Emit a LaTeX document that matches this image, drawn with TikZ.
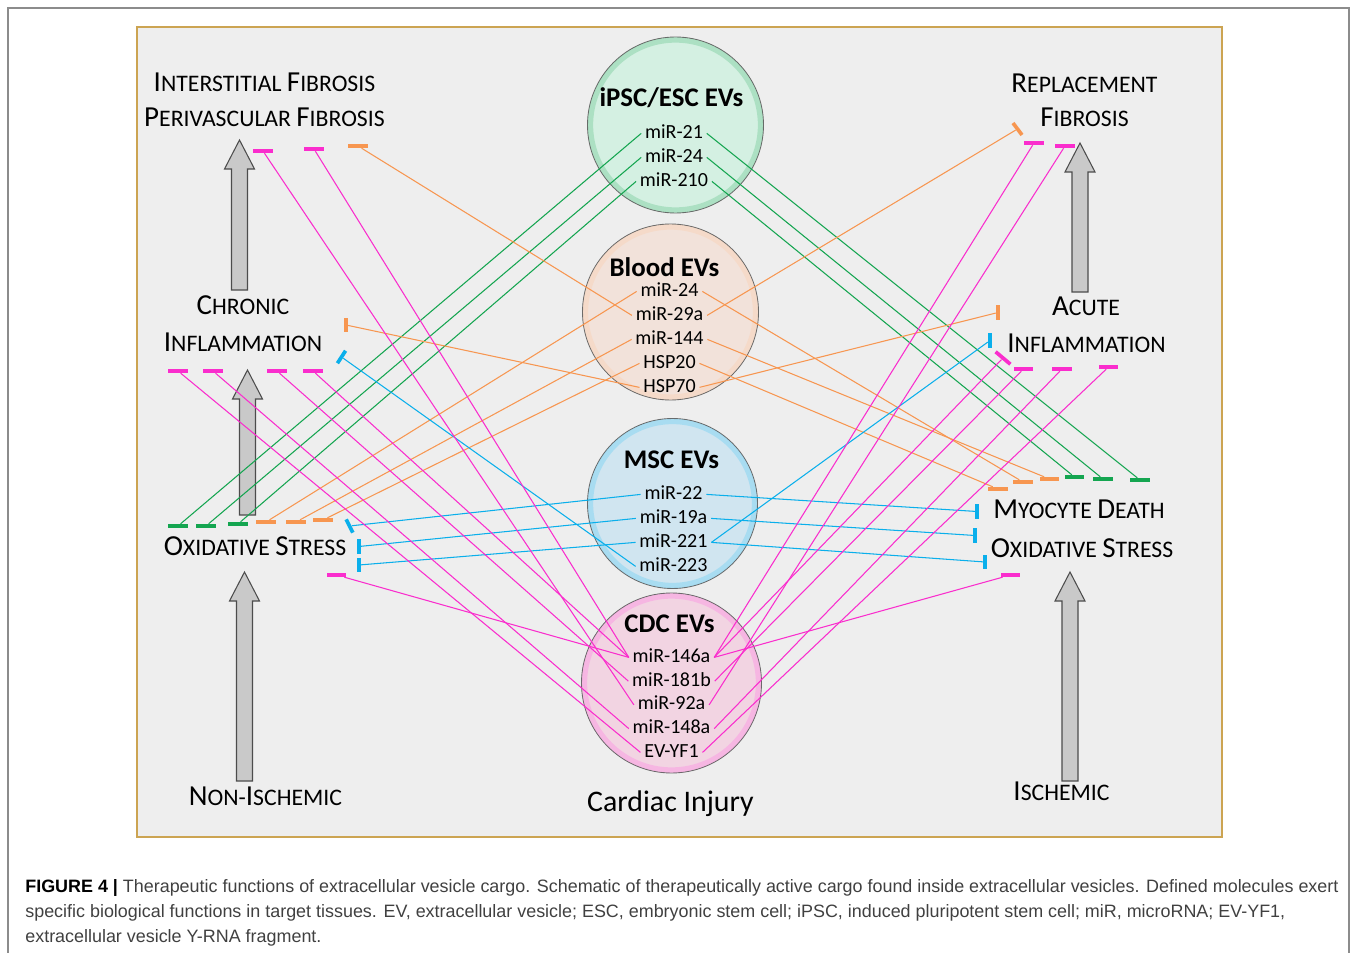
\documentclass[tikz,border=0pt]{standalone}
\usepackage{fontspec}
\setmainfont{Carlito}
\newfontfamily\capfont{Liberation Sans}
\usetikzlibrary{positioning}

\definecolor{evgreen}{RGB}{20,165,80}
\definecolor{evorange}{RGB}{247,150,80}
\definecolor{evmagenta}{RGB}{250,45,205}
\definecolor{evblue}{RGB}{10,175,235}
\definecolor{boxgold}{RGB}{204,164,82}
\definecolor{boxgray}{RGB}{238,238,238}
\definecolor{arrowgray}{RGB}{201,201,201}
\definecolor{ipscfill}{RGB}{212,240,226}
\definecolor{bloodfill}{RGB}{242,226,218}
\definecolor{mscfill}{RGB}{208,229,240}
\definecolor{cdcfill}{RGB}{242,212,226}

% small caps by hand: large first letter, smaller rest
\newcommand{\scw}[2]{{\fontsize{16.5}{18}\selectfont #1}{\fontsize{13.5}{15}\selectfont #2}}

\newcommand{\grayarrow}[3]{%
    \draw[blockarrow] (#1-8,#2) -- (#1+8,#2) -- (#1+8,#3+29) -- (#1+15,#3+29)
        -- (#1,#3) -- (#1-15,#3+29) -- (#1-8,#3+29) -- cycle;}

\begin{document}
\begin{tikzpicture}[x=0.02cm, y=-0.02cm,
    sclabel/.style={anchor=base, inner sep=0pt, font=\fontsize{13.5}{15}\selectfont},
    evtitle/.style={anchor=base, inner sep=0pt, font=\fontsize{15.3}{17}\selectfont\bfseries},
    mir/.style={inner ysep=0pt, inner xsep=2pt, text height=1.5ex, text depth=0.3ex,
        font=\fontsize{11.4}{13}\selectfont, on grid},
    vesicle/.style={circle, draw=black!60, line width=0.5pt, inner sep=0pt},
    glow/.style={line width=3pt, opacity=0.4},
    link/.style={line width=0.6pt},
    hbar/.style={fill=#1, inner sep=0pt, minimum width=11pt, minimum height=2.1pt},
    vbar/.style={fill=#1, inner sep=0pt, minimum width=2.1pt, minimum height=8.5pt},
    blockarrow/.style={draw=black!70, line width=0.6pt, fill=arrowgray}]

    \useasboundingbox (0,0) rectangle (1357,953);
    \draw[black!45, line width=0.6pt] (8,953) -- (8,8) -- (1349,8) -- (1349,953);
    \draw[boxgold, fill=boxgray, line width=1.2pt] (137,27) rectangle (1222,837);

    \grayarrow{239.5}{290}{140}
    \grayarrow{247.5}{515}{370}
    \grayarrow{244.5}{781}{572}
    \grayarrow{1080}{292}{143}
    \grayarrow{1070}{781}{572}

    \node[vesicle, fill=ipscfill, minimum size=3.52cm] (ipsc) at (675.5,125) {};
    \node[vesicle, fill=bloodfill, minimum size=3.52cm] (blood) at (670.5,312) {};
    \node[vesicle, fill=mscfill, minimum size=3.4cm] (msc) at (672.5,503.5) {};
    \node[vesicle, fill=cdcfill, minimum size=3.6cm] (cdc) at (671.5,683) {};
    \draw[glow, evgreen!60] (ipsc.center) circle (1.7cm);
    \draw[glow, evorange!45] (blood.center) circle (1.7cm);
    \draw[glow, evblue!60] (msc.center) circle (1.64cm);
    \draw[glow, evmagenta!55] (cdc.center) circle (1.74cm);

    \node[evtitle] (ipsct) at (671.5,107) {iPSC/ESC EVs};
    \node[mir] (ipsc21) at (674,133.4) {miR-21};
    \node[mir, below=0.48cm of ipsc21] (ipsc24) {miR-24};
    \node[mir, below=0.48cm of ipsc24] (ipsc210) {miR-210};

    \node[evtitle] (bloodt) at (664.5,276) {Blood EVs};
    \node[mir] (bl24) at (669.5,291.4) {miR-24};
    \node[mir, below=0.48cm of bl24] (bl29a) {miR-29a};
    \node[mir, below=0.48cm of bl29a] (bl144) {miR-144};
    \node[mir, below=0.48cm of bl144] (bl20) {HSP20};
    \node[mir, below=0.48cm of bl20] (bl70) {HSP70};

    \node[evtitle] (msct) at (671.5,468) {MSC EVs};
    \node[mir] (msc22) at (673.5,494.4) {miR-22};
    \node[mir, below=0.48cm of msc22] (msc19a) {miR-19a};
    \node[mir, below=0.48cm of msc19a] (msc221) {miR-221};
    \node[mir, below=0.48cm of msc221] (msc223) {miR-223};

    \node[evtitle] (cdct) at (669.5,632) {CDC EVs};
    \node[mir] (cdc146a) at (671.5,657.4) {miR-146a};
    \node[mir, below=0.475cm of cdc146a] (cdc181b) {miR-181b};
    \node[mir, below=0.475cm of cdc181b] (cdc92a) {miR-92a};
    \node[mir, below=0.475cm of cdc92a] (cdc148a) {miR-148a};
    \node[mir, below=0.475cm of cdc148a] (cdcyf1) {EV-YF1};

    \node[anchor=base, inner sep=0pt, font=\fontsize{17}{19}\selectfont] (injury) at (670.5,811) {Cardiac Injury};

    \node[sclabel] (intfib) at (264.5,92) {\scw{I}{NTERSTITIAL} \scw{F}{IBROSIS}};
    \node[sclabel] (perifib) at (264.5,127) {\scw{P}{ERIVASCULAR} \scw{F}{IBROSIS}};
    \node[sclabel] (chron) at (243,315) {\scw{C}{HRONIC}};
    \node[sclabel] (chrinfl) at (243,351) {\scw{I}{NFLAMMATION}};
    \node[sclabel] (oxleft) at (255,555) {\scw{O}{XIDATIVE} \scw{S}{TRESS}};
    \node[sclabel] (nonisch) at (265.5,805) {\scw{N}{ON-}\scw{I}{SCHEMIC}};
    \node[sclabel] (repl) at (1084.5,93) {\scw{R}{EPLACEMENT}};
    \node[sclabel] (replfib) at (1084.5,127) {\scw{F}{IBROSIS}};
    \node[sclabel] (acute) at (1086,316) {\scw{A}{CUTE}};
    \node[sclabel] (acinfl) at (1086.5,352) {\scw{I}{NFLAMMATION}};
    \node[sclabel] (myodeath) at (1079,518) {\scw{M}{YOCYTE} \scw{D}{EATH}};
    \node[sclabel] (oxright) at (1082,557) {\scw{O}{XIDATIVE} \scw{S}{TRESS}};
    \node[sclabel] (isch) at (1061.5,800) {\scw{I}{SCHEMIC}};

    \node[hbar=evmagenta] (fibA) at (263,151) {};
    \node[hbar=evmagenta] (fibB) at (314,149) {};
    \node[hbar=evorange] (fibC) at (358,146) {};
    \node[hbar=evmagenta] (chrA) at (178,371) {};
    \node[hbar=evmagenta] (chrB) at (213,371) {};
    \node[hbar=evmagenta] (chrC) at (277,371) {};
    \node[hbar=evmagenta] (chrD) at (313,371) {};
    \node[vbar=evorange] (chrO) at (346,325) {};
    \node[vbar=evblue, rotate=-33] (chrU) at (341.5,357) {};
    \node[hbar=evgreen] (osG1) at (178,526) {};
    \node[hbar=evgreen] (osG2) at (206,526) {};
    \node[hbar=evgreen] (osG3) at (238,524) {};
    \node[hbar=evorange] (osO1) at (266,522) {};
    \node[hbar=evorange] (osO2) at (296,522) {};
    \node[hbar=evorange] (osO3) at (323,520) {};
    \node[vbar=evblue, rotate=27] (osU1) at (349.5,526) {};
    \node[vbar=evblue] (osU2) at (359,546.5) {};
    \node[vbar=evblue] (osU3) at (359,565) {};
    \node[hbar=evmagenta] (osM) at (336.5,575) {};

    \node[vbar=evorange, rotate=37] (repO) at (1017.5,129) {};
    \node[hbar=evmagenta] (repA) at (1034,143) {};
    \node[hbar=evmagenta] (repB) at (1065,146) {};
    \node[vbar=evorange] (acO) at (998,312.5) {};
    \node[vbar=evblue] (acU) at (990,340.5) {};
    \node[hbar=evmagenta, rotate=-40] (acM) at (1003,358) {};
    \node[hbar=evmagenta] (acA) at (1023.5,369) {};
    \node[hbar=evmagenta] (acB) at (1062,369) {};
    \node[hbar=evmagenta] (acC) at (1108.5,367) {};
    \node[hbar=evorange] (mdO1) at (998,489) {};
    \node[hbar=evorange] (mdO2) at (1023,482) {};
    \node[hbar=evorange] (mdO3) at (1049.5,479) {};
    \node[hbar=evgreen] (mdG1) at (1074.5,477) {};
    \node[hbar=evgreen] (mdG2) at (1103,479) {};
    \node[hbar=evgreen] (mdG3) at (1140,480) {};
    \node[vbar=evblue] (mdU1) at (977,511.5) {};
    \node[vbar=evblue] (mdU2) at (975,535.5) {};
    \node[vbar=evblue] (mdU3) at (985,562) {};
    \node[hbar=evmagenta] (mdM) at (1010.5,575) {};

    \draw[link, evgreen] (ipsc21.west) -- (osG1);
    \draw[link, evgreen] (ipsc24.west) -- (osG2);
    \draw[link, evgreen] (ipsc210.west) -- (osG3);
    \draw[link, evgreen] (ipsc21.east) -- (mdG3);
    \draw[link, evgreen] (ipsc24.east) -- (mdG2);
    \draw[link, evgreen] (ipsc210.east) -- (mdG1);

    \draw[link, evorange] (bl29a.west) -- (fibC);
    \draw[link, evorange] (bl29a.east) -- (repO);
    \draw[link, evorange] (bl24.west) -- (osO1);
    \draw[link, evorange] (bl144.west) -- (osO2);
    \draw[link, evorange] (bl20.west) -- (osO3);
    \draw[link, evorange] (bl70.west) -- (chrO);
    \draw[link, evorange] (bl70.east) -- (acO);
    \draw[link, evorange] (bl24.east) -- (mdO2);
    \draw[link, evorange] (bl144.east) -- (mdO3);
    \draw[link, evorange] (bl20.east) -- (mdO1);

    \draw[link, evblue] (msc223.west) -- (chrU);
    \draw[link, evblue] (msc22.west) -- (osU1);
    \draw[link, evblue] (msc19a.west) -- (osU2);
    \draw[link, evblue] (msc221.west) -- (osU3);
    \draw[link, evblue] (msc22.east) -- (mdU1);
    \draw[link, evblue] (msc19a.east) -- (mdU2);
    \draw[link, evblue] (msc221.east) -- (mdU3);
    \draw[link, evblue] (msc221.east) -- (acU);

    \draw[link, evmagenta] (cdc92a.west) -- (fibA);
    \draw[link, evmagenta] (cdc146a.west) -- (fibB);
    \draw[link, evmagenta] (cdcyf1.west) -- (chrA);
    \draw[link, evmagenta] (cdc148a.west) -- (chrB);
    \draw[link, evmagenta] (cdc181b.west) -- (chrC);
    \draw[link, evmagenta] (cdc146a.west) -- (chrD);
    \draw[link, evmagenta] (cdc146a.west) -- (osM);
    \draw[link, evmagenta] (cdc146a.east) -- (repA);
    \draw[link, evmagenta] (cdc92a.east) -- (repB);
    \draw[link, evmagenta] (cdc146a.east) -- (acM);
    \draw[link, evmagenta] (cdc181b.east) -- (acA);
    \draw[link, evmagenta] (cdc148a.east) -- (acB);
    \draw[link, evmagenta] (cdcyf1.east) -- (acC);
    \draw[link, evmagenta] (cdc146a.east) -- (mdM);

    \node[anchor=base west, inner sep=0pt, font=\capfont\fontsize{10.2}{12}\selectfont, text=black!75] (cap1) at (25,892)
        {\textcolor{black}{\textbf{FIGURE 4 |}} Therapeutic functions of extracellular vesicle cargo. Schematic of therapeutically active cargo found inside extracellular vesicles. Defined molecules exert};
    \node[anchor=base west, inner sep=0pt, font=\capfont\fontsize{10.2}{12}\selectfont, text=black!75] (cap2) at (25,917)
        {specific biological functions in target tissues. EV, extracellular vesicle; ESC, embryonic stem cell; iPSC, induced pluripotent stem cell; miR, microRNA; EV-YF1,};
    \node[anchor=base west, inner sep=0pt, font=\capfont\fontsize{10.2}{12}\selectfont, text=black!75] (cap3) at (25,942)
        {extracellular vesicle Y-RNA fragment.};

\end{tikzpicture}
\end{document}
